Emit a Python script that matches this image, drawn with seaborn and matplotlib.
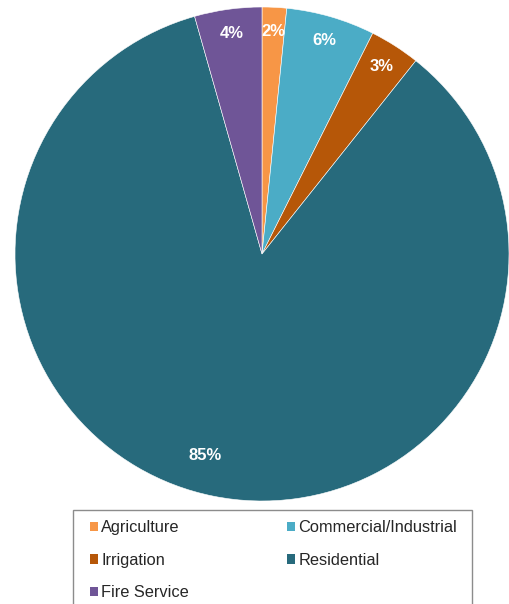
import numpy as np
import matplotlib.pyplot as plt
import seaborn as sns
from matplotlib.patches import Rectangle

# Water use by customer class (share of total, %)
categories = ["Agriculture", "Commercial/Industrial", "Irrigation", "Residential", "Fire Service"]
shares = [1.6, 5.8, 3.3, 84.9, 4.4]
labels_pct = ["2%", "6%", "3%", "85%", "4%"]
colors = ["#F79646", "#4BACC6", "#B65708", "#276A7C", "#6F5597"]

sns.set_style("white")
plt.rcParams["font.family"] = ["Liberation Sans", "DejaVu Sans"]

fig = plt.figure(figsize=(5.09, 6.04), dpi=100)
ax = fig.add_axes([15 / 509, 1 - 501 / 604, 494 / 509, 494 / 604])

wedges, texts, autotexts = ax.pie(
    shares, colors=colors, startangle=90, counterclock=False,
    autopct="%1.0f%%", pctdistance=0.9,
    wedgeprops=dict(edgecolor="white", linewidth=0.4),
)
for t, lab in zip(autotexts, labels_pct):
    t.set_text(lab)
    t.set_color("white")
    t.set_fontweight("bold")
    t.set_fontsize(12)

# pull the big label inward and a bit to the left, like the original
w = wedges[3]
mid = np.deg2rad((w.theta1 + w.theta2) / 2 - 4.5)
autotexts[3].set_position((0.85 * np.cos(mid), 0.85 * np.sin(mid)))

ax.set_xlim(-1, 1)
ax.set_ylim(-1, 1)
ax.set_aspect("equal")
ax.axis("off")

# legend fills row by row in the original; box drawn separately
order = [0, 2, 4, 1, 3]
leg = fig.legend(
    [wedges[i] for i in order], [categories[i] for i in order],
    ncol=2, loc="upper left",
    bbox_to_anchor=(90 / 509, 1 - 520 / 604),
    fontsize=11.8, frameon=False,
    handlelength=0.5, handleheight=0.5, handletextpad=0.18,
    labelspacing=1.08, columnspacing=6.0, borderpad=0, borderaxespad=0,
)
for h in leg.legend_handles:
    h.set_edgecolor("none")

fig.patches.append(Rectangle(
    (73 / 509, -0.05), (472 - 73) / 509, 1 - 510 / 604 + 0.05,
    transform=fig.transFigure, fill=False, edgecolor="#8C8C8C", linewidth=1.0,
))

fig.savefig("out.png", dpi=100)
